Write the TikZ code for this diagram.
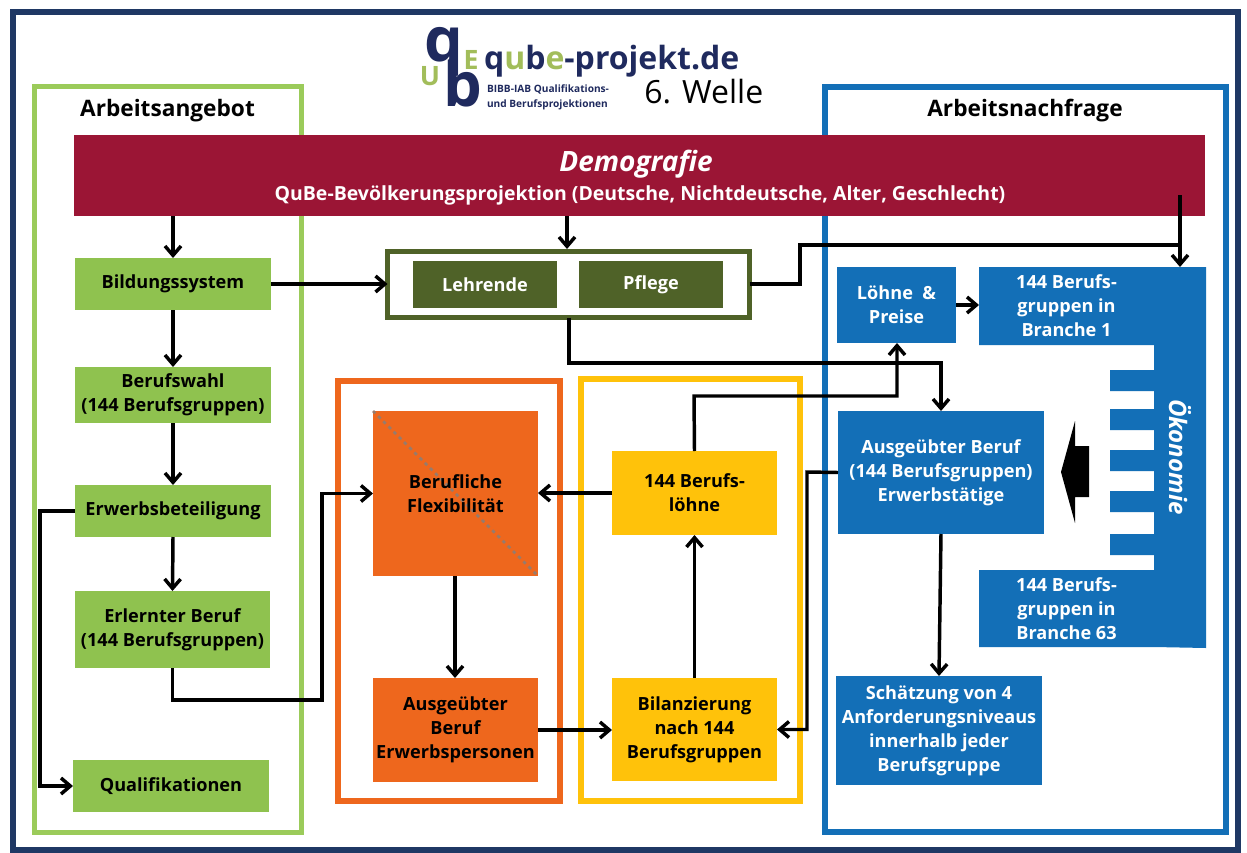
\documentclass[tikz,border=0pt]{standalone}
\usepackage{fontspec}
\setmainfont{Open Sans}
\usetikzlibrary{arrows.meta,calc}
\definecolor{navy}{HTML}{1F3864}
\definecolor{grn}{HTML}{8FC24F}
\definecolor{grnf}{HTML}{9BCB5A}
\definecolor{blu}{HTML}{136FB7}
\definecolor{org}{HTML}{EE671D}
\definecolor{yel}{HTML}{FFC20A}
\definecolor{oli}{HTML}{4F6228}
\definecolor{mar}{HTML}{9B1535}
\definecolor{logogrn}{HTML}{A2BD5A}
\definecolor{logoblu}{HTML}{1F2A5E}
\tikzset{
  bx/.style={inner sep=0pt,outer sep=0pt,align=center,font=\fontsize{13.6}{18}\selectfont\bfseries},
  frm/.style={draw,fill=none,inner sep=0pt,outer sep=0pt},
  conn/.style={line width=2.6pt,black,-{Straight Barb[length=7pt,width=12pt,line width=2.6pt]}},
  plainconn/.style={line width=2.6pt,black},
  hdr/.style={inner sep=0pt,font=\fontsize{17}{20}\selectfont\bfseries},
  logo/.style={inner sep=0pt,outer sep=0pt,font=\bfseries}
}
% \bxn[style]{name}{x1}{y1}{x2}{y2}{text}
\newcommand{\bxn}[7][]{\node[bx,#1,minimum width={(#5-#3)*0.75pt},minimum height={(#6-#4)*0.75pt}] (#2) at ({(#3+#5)/2},{(#4+#6)/2}) {#7};}
\begin{document}
\begin{tikzpicture}[x=0.75pt,y=-0.75pt]
\useasboundingbox (0,0) rectangle (1247,853);
\fill[white] (0,0) rectangle (1247,853);
% frames
\bxn[frm,navy,line width=3.8pt]{outer}{13}{12}{1238}{850}{}
\bxn[frm,grnf,line width=4pt]{fgreen}{34.5}{86.5}{301.5}{832.5}{}
\bxn[frm,blu,line width=4.5pt]{fblue}{825}{87}{1226}{832}{}
\bxn[frm,oli,line width=4pt]{folive}{387.5}{251.5}{749.5}{317.5}{}
\bxn[frm,org,line width=4.5pt]{forange}{338}{381}{560}{801}{}
\bxn[frm,yel,line width=4.5pt]{fyellow}{581}{379}{800}{801}{}
% headers
\node[hdr,anchor=base] (hl) at (167.5,116) {Arbeitsangebot};
\node[hdr,anchor=base] (hr) at (1025,116) {Arbeitsnachfrage};
% logo
\node[logo,logoblu,anchor=base,font=\fontsize{46}{46}\selectfont\bfseries] (lq) at (444,61) {q};
\node[logo,logoblu,anchor=base,font=\fontsize{46}{46}\selectfont\bfseries] (lb) at (463,106) {b};
\node[logo,logogrn,anchor=base,font=\fontsize{20}{20}\selectfont\bfseries] (lE) at (471,69) {E};
\node[logo,logogrn,anchor=base,font=\fontsize{20}{20}\selectfont\bfseries] (lU) at (430,85) {U};
\node[logo,logoblu,anchor=base west,font=\fontsize{24}{24}\selectfont\bfseries] (lt) at (484,69) {q\textcolor{logogrn}{u}b\textcolor{logogrn}{e}-projekt.de};
\node[logo,logoblu,anchor=base west,font=\fontsize{7.6}{8}\selectfont\bfseries] (ls1) at (487,92) {BIBB-IAB Qualifikations-};
\node[logo,logoblu,anchor=base west,font=\fontsize{7.6}{8}\selectfont\bfseries] (ls2) at (487,107) {und Berufsprojektionen};
\node[inner sep=0pt,anchor=base west,font=\fontsize{24}{24}\selectfont] (welle) at (644,103) {6. Welle};
% demografie
\bxn[fill=mar,text=white]{dem}{74}{135}{1205}{216}{}
\node[inner sep=0pt,anchor=base,text=white,font=\fontsize{21}{24}\selectfont\bfseries\itshape] (dem1) at (636,171) {Demografie};
\node[inner sep=0pt,anchor=base,text=white,font=\fontsize{14.6}{18}\selectfont\bfseries] (dem2) at (640,200) {QuBe-Bevölkerungsprojektion (Deutsche, Nichtdeutsche, Alter, Geschlecht)};
% green boxes
\bxn[fill=grn]{bild}{75}{258}{271}{310}{Bildungssystem}
\bxn[fill=grn]{wahl}{75}{367}{271}{423}{Berufswahl\\(144 Berufsgruppen)}
\bxn[fill=grn]{erw}{75}{485}{271}{537}{Erwerbsbeteiligung}
\bxn[fill=grn]{erl}{75}{591}{270}{668}{Erlernter Beruf\\(144 Berufsgruppen)}
\bxn[fill=grn]{qual}{73}{760}{269}{812}{Qualifikationen}
% olive
\bxn[fill=oli,text=white]{lehr}{413}{261}{557}{308}{Lehrende}
\bxn[fill=oli,text=white]{pfl}{579}{261}{723}{308}{Pflege}
% orange
\bxn[fill=org]{flex}{373}{411}{538}{576}{}
\draw[gray!80!org,line width=2pt,dash pattern=on 2.5pt off 3pt] (flex.north west) -- (flex.south east);
\node[bx,anchor=center] (flext) at (flex.center) {Berufliche\\Flexibilität};
\bxn[fill=org]{aus}{373}{678}{538}{782}{Ausgeübter\\Beruf\\Erwerbspersonen}
% yellow
\bxn[fill=yel]{loh}{612}{451}{777}{535}{144 Berufs-\\löhne}
\bxn[fill=yel]{bil}{612}{678}{777}{781}{Bilanzierung\\nach 144\\Berufsgruppen}
% blue
\bxn[fill=blu,text=white]{lp}{837}{267}{956}{343}{Löhne\ \ \&\\Preise}
\fill[blu] (979,267) -- (1206,267) -- (1206,648) -- (1154,647) -- (979,647) -- (979,570) -- (1154,570)
  -- (1154,555) -- (1110,555) -- (1110,534) -- (1154,534)
  -- (1154,512) -- (1110,512) -- (1110,491) -- (1154,491)
  -- (1154,471) -- (1110,471) -- (1110,450) -- (1154,450)
  -- (1154,430) -- (1110,430) -- (1110,409) -- (1154,409)
  -- (1154,391) -- (1110,391) -- (1110,370) -- (1154,370)
  -- (1154,345) -- (979,345) -- cycle;
\bxn[text=white]{b1}{979}{267}{1154}{345}{144 Berufs-\\gruppen in\\Branche 1}
\bxn[text=white]{b63}{979}{570}{1154}{647}{144 Berufs-\\gruppen in\\Branche 63}
\node[inner sep=0pt,rotate=-90,text=white,font=\fontsize{18}{20}\selectfont\bfseries\itshape] (oek) at (1180,457) {Ökonomie};
\bxn[fill=blu,text=white]{aub}{838}{411}{1044}{534}{Ausgeübter Beruf\\(144 Berufsgruppen)\\Erwerbstätige}
\bxn[fill=blu,text=white]{sch}{836}{676}{1042}{785}{Schätzung von 4\\Anforderungsniveaus\\innerhalb jeder\\Berufsgruppe}
\fill[black] (1061,472) -- (1075,421) -- (1075,446) -- (1089,446) -- (1089,497) -- (1075,497) -- (1075,523) -- cycle;
% coordinates
\coordinate (c1) at (1180,195);
\coordinate (c2) at (800,245);
\coordinate (c3) at (569,363);
\coordinate (c4) at (694,396);
\coordinate (c5) at (807,472);
\coordinate (c6) at (40,511);
\coordinate (c7) at (322,700);
\coordinate (t1) at (1180,267);
\coordinate (t2) at (897,343);
\coordinate (t3) at (941,411);
\coordinate (t4) at (939,676);
\coordinate (s4) at (941,534);
% connectors
\draw[conn] (dem.south -| bild) -- (bild.north);
\draw[conn] (dem.south -| 567,0) -- (567,249);
\draw[conn] (c1) -- (t1);
\draw[conn] (bild) -- (wahl);
\draw[conn] (wahl) -- (erw);
\draw[conn] (erw.south) -- (erl.north);
\draw[conn] (bild.east) -- (folive.west |- bild.east);
\draw[plainconn] (folive.east |- bild.east) -- (c2 |- bild.east) -- (c2) -- (c2 -| t1);
\draw[conn] (erw.west) -- (c6) -- (c6 |- qual.west) -- (qual.west);
\draw[conn] (erl.south) -- (erl.south |- c7) -- (c7) -- (c7 |- flex.west) -- (flex.west);
\draw[conn] (c3 |- folive.south) -- (c3) -- (c3 -| t3) -- (t3);
\draw[conn] (loh.north) -- (c4) -- (c4 -| t2) -- (t2);
\draw[conn] (lp.east) -- (lp.east -| b1.west);
\draw[conn] (loh.west) -- (loh.west -| flex.east);
\draw[conn] (flex.south -| 455,0) -- (aus.north -| 455,0);
\draw[conn] (aus.east) -- (aus.east -| bil.west);
\draw[conn] (bil.north) -- (loh.south);
\draw[conn] (aub.west) -- (c5) -- (c5 |- bil.east) -- (bil.east);
\draw[conn] (s4) -- (t4);
\end{tikzpicture}
\end{document}
